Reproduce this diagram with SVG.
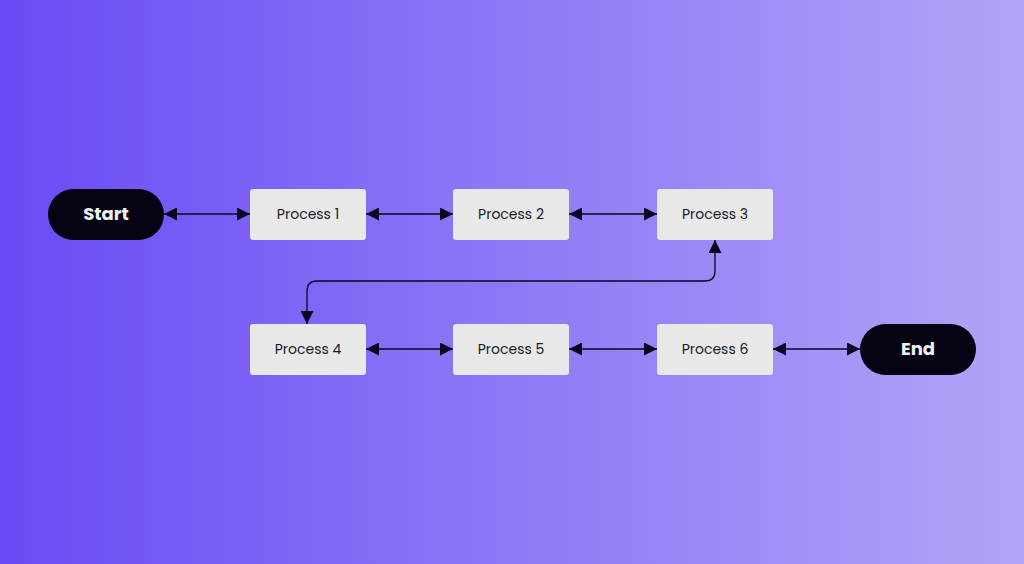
<svg xmlns="http://www.w3.org/2000/svg" width="1024" height="564" viewBox="0 0 1024 564">
<defs>
<linearGradient id="bg" x1="0" y1="0" x2="1" y2="0">
<stop offset="0" stop-color="#6b4af5"/>
<stop offset="0.5" stop-color="#8f78f6"/>
<stop offset="1" stop-color="#b4a3f7"/>
</linearGradient>
<marker id="ah" viewBox="0 0 10 10" refX="10" refY="5" markerWidth="17" markerHeight="13" markerUnits="userSpaceOnUse" orient="auto-start-reverse">
<path d="M0,0 L10,5 L0,10 z" fill="#0a0520"/>
</marker>
<style>
.box{fill:#e8e8e8}
.pill{fill:#050214}
.t{font-family:Poppins,"Liberation Sans",sans-serif;font-size:14px;fill:#1a1a2a;text-anchor:middle;dominant-baseline:central}
.tb{font-family:Poppins,"Liberation Sans",sans-serif;font-size:18px;font-weight:bold;fill:#f0f0f0;text-anchor:middle;dominant-baseline:central}
.c{stroke:#0a0520;stroke-width:1.3;fill:none;marker-start:url(#ah);marker-end:url(#ah)}
</style>
</defs>
<rect width="1024" height="564" fill="url(#bg)"/>
<g id="connectors">
<line class="c" x1="164" y1="214" x2="250" y2="214"/>
<line class="c" x1="366" y1="214" x2="453" y2="214"/>
<line class="c" x1="569" y1="214" x2="657" y2="214"/>
<path class="c" d="M715,240 V271 Q715,281 705,281 H317 Q307,281 307,291 V324"/>
<line class="c" x1="366" y1="349" x2="453" y2="349"/>
<line class="c" x1="569" y1="349" x2="657" y2="349"/>
<line class="c" x1="773" y1="349" x2="860" y2="349"/>
</g>
<g id="start"><rect class="pill" x="48" y="189" width="116" height="51" rx="25.5"/><text class="tb" x="106" y="213">Start</text></g>
<g id="p1"><rect class="box" x="250" y="189" width="116" height="51" rx="3"/><text class="t" x="308" y="214">Process 1</text></g>
<g id="p2"><rect class="box" x="453" y="189" width="116" height="51" rx="3"/><text class="t" x="511" y="214">Process 2</text></g>
<g id="p3"><rect class="box" x="657" y="189" width="116" height="51" rx="3"/><text class="t" x="715" y="214">Process 3</text></g>
<g id="p4"><rect class="box" x="250" y="324" width="116" height="51" rx="3"/><text class="t" x="308" y="349">Process 4</text></g>
<g id="p5"><rect class="box" x="453" y="324" width="116" height="51" rx="3"/><text class="t" x="511" y="349">Process 5</text></g>
<g id="p6"><rect class="box" x="657" y="324" width="116" height="51" rx="3"/><text class="t" x="715" y="349">Process 6</text></g>
<g id="end"><rect class="pill" x="860" y="324" width="116" height="51" rx="25.5"/><text class="tb" x="918" y="348">End</text></g>
</svg>
